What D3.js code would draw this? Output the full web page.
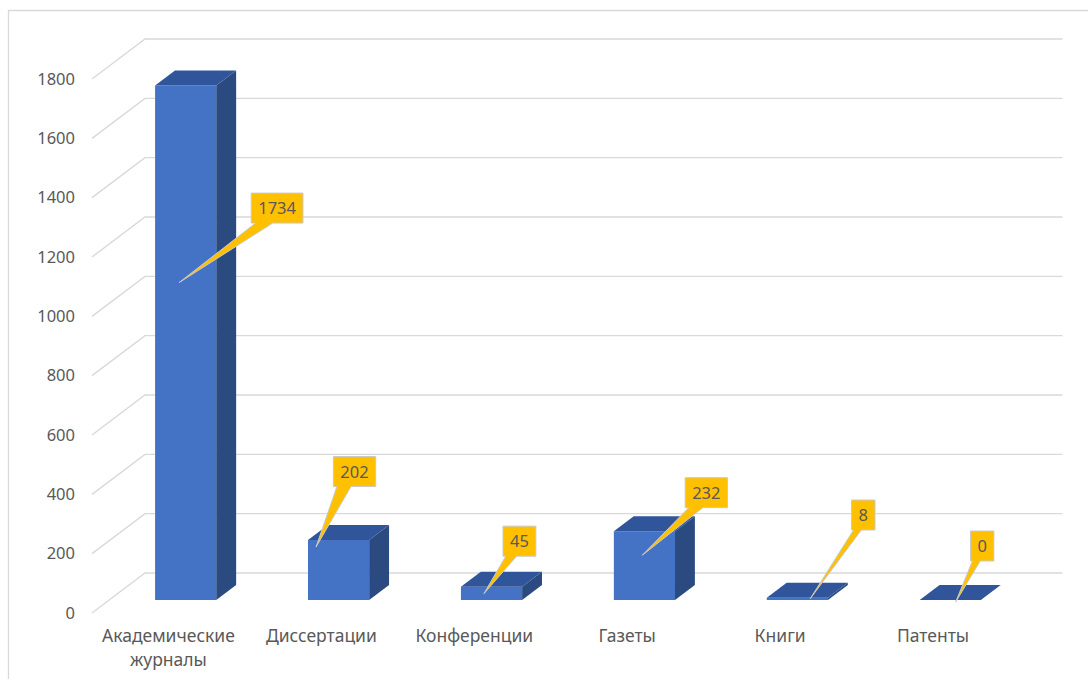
<!DOCTYPE html>
<html><head><meta charset="utf-8">
<script src="https://cdn.jsdelivr.net/npm/d3@7"></script>
<style>body{margin:0;background:#fff}svg{display:block}</style>
</head><body><svg id="c" width="1088" height="679"></svg>
<script>
// ---- data ----
const categories = ["Академические журналы", "Диссертации", "Конференции", "Газеты", "Книги", "Патенты"];
const values = [1734, 202, 45, 232, 8, 0];
const yTicks = [0, 200, 400, 600, 800, 1000, 1200, 1400, 1600, 1800];

// ---- callout layout (tip inside bar front face, box centre relative to tip) ----
const calloutTip = [[24, 197], [8, 7], [23, 7], [28.5, 24], [43.5, 1], [36, 2]];
const calloutBox = [[98, -74.5], [38.5, -75.5], [35.5, -52.5], [64, -62.5], [53, -83.6], [26.5, -56]];

const svg = d3.select("#c");
const FONT = "'Noto Sans', 'DejaVu Sans', sans-serif";
const TXT = "#595959";
const GRID = "#D9D9D9";

// chart area border (top & left visible)
svg.append("path").attr("d", "M8.5,679 L8.5,10.5 L1088,10.5")
  .attr("fill", "none").attr("stroke", GRID).attr("stroke-width", 1.3);

// plot geometry
const x = d3.scaleBand().domain(categories).range([92, 1009.5]).paddingInner(0.6).paddingOuter(0.3);
const y = d3.scaleLinear().domain([0, 1800]).range([613, 79]);
const DX = 53, DY = -40;           // full floor depth vector
const t0 = 0.325, t1 = 0.7;        // bar depth extent
const wallRight = 1062.5;

// gridlines: left-wall diagonal + back-wall horizontal
svg.append("g").selectAll("path").data(yTicks).join("path")
  .attr("d", d => `M92,${y(d)} L${92 + DX},${y(d) + DY} L${wallRight},${y(d) + DY}`)
  .attr("fill", "none").attr("stroke", GRID).attr("stroke-width", 1.4);

// y axis labels
const ya = svg.append("g").attr("transform", "translate(92,0)")
  .call(d3.axisLeft(y).tickValues(yTicks).tickSize(0).tickPadding(17).tickFormat(d3.format("d")));
ya.select(".domain").remove();
ya.selectAll("text").attr("font-family", FONT).attr("font-size", 16.5).attr("fill", TXT);

// x axis labels
const xa = svg.append("g").attr("transform", "translate(0,613)")
  .call(d3.axisBottom(x).tickSize(0));
xa.select(".domain").remove();
xa.selectAll("text").each(function (d) {
  const t = d3.select(this);
  t.text(null).attr("y", 0).attr("dy", null)
    .attr("font-family", FONT).attr("font-size", 17.5).attr("fill", TXT);
  const words = d.split(" ");
  words.forEach((w, i) => {
    t.append("tspan").attr("x", 0).attr("y", 29 + i * 24).text(w);
  });
});

// bars
const bars = svg.append("g");
categories.forEach((c, i) => {
  const v = values[i];
  const bx = x(c) + DX * t0, bw = x.bandwidth();
  const yb = y(0) + DY * t0, yt = y(v) + DY * t0;
  const ddx = DX * (t1 - t0), ddy = DY * (t1 - t0);
  const g = bars.append("g");
  if (yb - yt > 0.5) {
    // front
    g.append("path").attr("d", `M${bx},${yb} L${bx + bw},${yb} L${bx + bw},${yt} L${bx},${yt} Z`)
      .attr("fill", "#4472C4");
    // side
    g.append("path").attr("d", `M${bx + bw},${yb} L${bx + bw + ddx},${yb + ddy} L${bx + bw + ddx},${yt + ddy} L${bx + bw},${yt} Z`)
      .attr("fill", "#2B4A80");
  }
  // top
  g.append("path").attr("d", `M${bx},${yt} L${bx + bw},${yt} L${bx + bw + ddx},${yt + ddy} L${bx + ddx},${yt + ddy} Z`)
    .attr("fill", "#30559A");
});

// callouts
const cg = svg.append("g");
categories.forEach((c, i) => {
  const v = values[i];
  const bx = x(c) + DX * t0;
  const yt = y(v) + DY * t0;
  const tx = bx + calloutTip[i][0], ty = yt + calloutTip[i][1];
  const cx = tx + calloutBox[i][0], cy = ty + calloutBox[i][1];
  const g = cg.append("g");
  const label = g.append("text").text(d3.format("d")(v))
    .attr("x", cx).attr("y", cy).attr("dy", "0.36em").attr("text-anchor", "middle")
    .attr("font-family", FONT).attr("font-size", 16.5).attr("fill", TXT);
  const tw = label.node().getComputedTextLength();
  const w = tw + 14, h = 30;
  const x1 = cx - w / 2, x2 = cx + w / 2, y1 = cy - h / 2, y2 = cy + h / 2;
  const b1 = x1 + w / 12, b2 = x1 + w * 5 / 12;
  g.insert("path", "text")
    .attr("d", `M${x1},${y1} L${x2},${y1} L${x2},${y2} L${b2},${y2} L${tx},${ty} L${b1},${y2} L${x1},${y2} Z`)
    .attr("fill", "#FFC000").attr("stroke", "#C9C9C9").attr("stroke-width", 1).attr("stroke-linejoin", "miter");
});
</script>
</body></html>
